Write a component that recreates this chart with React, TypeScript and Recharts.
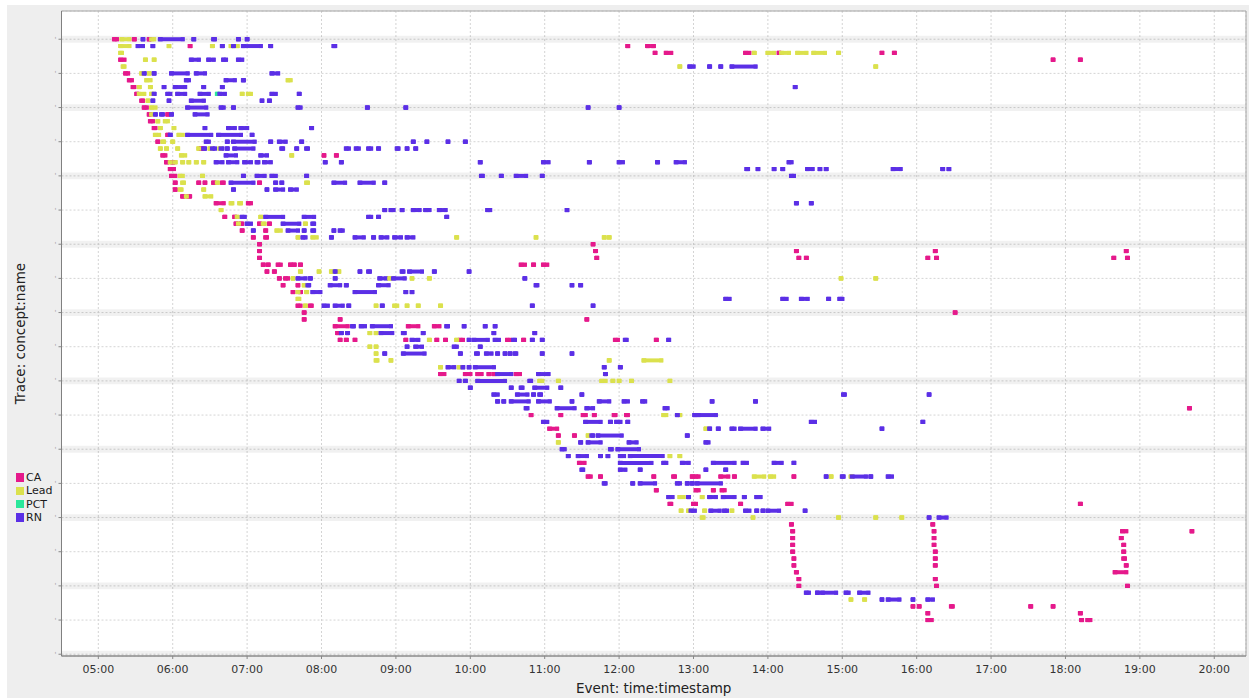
import React from 'react';
import {
  ScatterChart,
  Scatter,
  XAxis,
  YAxis,
  CartesianGrid,
  ErrorBar,
  ReferenceArea,
  Legend,
  Label,
} from 'recharts';

type Run = [number, number, number]; // [trace row, first event (min after midnight), last event (min)]

const SERIES = ['CA', 'Lead', 'PCT', 'RN'];
const COLORS: Record<string, string> = {
  CA: '#e5198b',
  Lead: '#dbe14d',
  PCT: '#2ae79a',
  RN: '#5b2fe6',
};

const HOUR_TICKS = [300, 360, 420, 480, 540, 600, 660, 720, 780, 840, 900, 960, 1020, 1080, 1140, 1200];
const ROW_TICKS = [0, 5, 10, 15, 20, 25, 30, 35, 40, 45, 50, 55, 60, 65, 70, 75, 80, 85, 90];
const BAND_ROWS = [0, 10, 20, 30, 40, 50, 60, 70, 80, 90];
const X_DOMAIN: [number, number] = [270.3, 1225.6];
const Y_DOMAIN: [number, number] = [-4.13, 90.26];

const CA_RUNS: Run[] = [
  [0,313,315],[0,329,329],[0,341,341],
  [1,374,374],[1,727,727],[1,743,743],[1,747,748],
  [2,749,749],[2,758,762],[2,822,825],[2,849,849],[2,932,932],[2,942,942],
  [3,318,321],[3,1070,1070],[3,1092,1092],
  [5,322,324],[6,325,327],[7,328,329],[8,331,331],[9,335,336],[10,337,339],
  [11,341,341],[11,356,356],[12,342,344],[13,345,346],[14,356,356],[15,348,348],[16,383,383],
  [17,352,354],[17,482,482],[17,492,492],
  [18,355,355],[18,360,360],[19,358,361],[20,359,362],
  [21,362,362],[21,381,381],[21,386,386],[21,393,393],[21,400,401],[21,430,430],
  [22,362,362],[23,368,368],[23,373,374],
  [24,395,401],[24,421,423],
  [26,402,402],[26,410,410],
  [27,411,411],[27,415,416],[27,430,430],[27,438,438],
  [28,416,416],[28,435,435],
  [29,425,425],[29,435,436],
  [30,430,430],[30,699,699],
  [31,430,430],[31,701,701],[31,863,863],[31,975,975],[31,1129,1129],
  [32,430,430],[32,702,702],[32,865,865],[32,871,871],[32,969,969],[32,976,976],[32,1119,1119],[32,1130,1130],
  [33,433,433],[33,437,437],[33,445,447],[33,455,455],[33,458,458],[33,463,463],[33,641,644],[33,651,651],[33,659,662],
  [34,436,436],[34,442,442],
  [35,446,446],[35,451,453],
  [36,449,449],[36,461,461],
  [37,457,457],[37,463,463],
  [39,461,463],[39,471,472],
  [40,466,466],[40,991,991],
  [41,466,466],[41,495,495],[41,694,694],
  [42,491,501],[42,550,558],[42,571,575],
  [43,493,493],
  [44,495,495],[44,500,500],[44,507,507],[44,548,548],[44,573,573],[44,580,580],[44,592,594],[44,630,632],[44,643,643],[44,717,719],[44,750,750],
  [49,576,579],[49,596,600],[49,606,609],[49,615,615],[49,619,619],[49,637,640],
  [54,1180,1180],
  [55,649,649],[55,673,673],[55,691,693],[55,700,700],[55,716,717],[55,726,727],
  [57,664,670],
  [58,671,671],[58,684,684],
  [62,688,692],
  [64,695,697],[64,705,705],[64,748,748],[64,764,765],[64,779,779],[64,782,784],[64,802,808],[64,813,813],[64,861,861],
  [66,750,750],[66,782,784],[66,796,796],[66,803,805],
  [68,761,762],[68,780,782],[68,818,818],[68,856,859],[68,1092,1092],
  [71,859,859],[71,973,973],
  [72,860,860],[72,974,974],[72,1126,1129],[72,1182,1182],
  [73,860,860],[73,974,974],[73,1125,1125],
  [74,860,860],[74,974,974],[74,1127,1127],
  [75,860,860],[75,975,975],[75,1127,1127],
  [76,861,861],[76,975,975],[76,1127,1128],
  [77,861,861],[77,975,975],[77,1129,1129],
  [78,863,863],[78,1120,1129],
  [79,865,865],[79,975,975],
  [80,865,865],[80,976,976],[80,1130,1130],
  [83,957,957],[83,962,962],[83,988,989],[83,1052,1052],[83,1070,1070],
  [84,969,969],[84,1092,1092],
  [85,969,972],[85,1093,1093],[85,1098,1100],
];

const LEAD_RUNS: Run[] = [
  [0,319,325],[0,343,345],
  [1,318,325],[1,357,357],[1,392,392],[1,407,407],[1,412,412],
  [2,318,319],[2,829,829],[2,840,845],[2,851,857],[2,864,871],[2,877,886],[2,897,897],
  [3,338,338],[3,345,345],
  [4,320,321],[4,769,769],[4,927,927],
  [5,335,335],[5,341,341],
  [6,339,342],[6,453,455],
  [7,333,333],[7,342,342],
  [8,333,337],[8,343,343],[8,416,416],[8,421,423],
  [9,340,340],[10,343,346],[11,343,343],
  [12,348,348],[12,354,356],
  [13,350,350],[13,361,361],
  [14,346,349],[14,365,368],
  [15,352,353],[15,360,360],
  [16,350,350],[16,355,355],[16,364,364],[16,381,381],[16,390,390],[16,398,398],
  [17,367,370],[17,456,456],
  [18,358,358],[18,362,362],[18,368,368],[18,373,373],[18,379,379],[18,385,385],
  [20,366,368],[20,384,384],
  [21,368,369],[21,396,396],[21,468,469],
  [22,366,367],[22,385,385],
  [23,371,371],[23,386,391],
  [24,407,408],[24,414,415],
  [25,399,399],
  [26,412,412],[26,431,431],
  [27,413,413],[27,433,434],[27,467,467],
  [28,444,447],
  [29,461,461],[29,473,476],[29,589,589],[29,653,653],[29,708,708],[29,712,712],
  [34,463,463],[34,478,478],[34,488,488],[34,494,494],
  [35,457,457],[35,535,535],[35,553,553],[35,567,567],[35,899,899],[35,927,927],
  [36,466,466],
  [37,461,461],[37,468,468],
  [38,461,462],
  [39,467,467],[39,524,524],[39,539,541],[39,549,549],[39,558,558],[39,576,576],
  [43,519,519],[43,524,524],
  [44,567,567],[44,589,589],
  [45,519,519],[45,524,524],
  [46,524,524],
  [47,524,525],[47,536,536],[47,712,712],[47,740,754],
  [48,576,576],[48,591,591],
  [50,656,658],[50,671,671],[50,706,709],[50,715,715],[50,720,720],[50,730,730],[50,761,761],
  [55,756,758],[55,769,769],
  [57,790,790],
  [58,695,695],
  [59,671,671],
  [61,761,761],[61,769,769],
  [64,829,837],[64,842,845],[64,891,891],[64,907,907],
  [67,769,772],[67,787,787],
  [69,770,770],[69,776,776],[69,789,789],[69,811,811],
  [70,787,788],[70,828,828],[70,897,897],[70,927,927],[70,948,948],
  [82,907,907],[82,918,918],
];

const PCT_RUNS: Run[] = [[8,396,396]];

const RN_RUNS: Run[] = [
  [0,336,336],[0,350,368],[0,377,377],[0,393,394],[0,413,413],[0,420,420],
  [1,332,336],[1,344,344],[1,400,400],[1,409,409],[1,417,431],[1,439,439],[1,490,491],
  [3,375,381],[3,389,393],[3,401,403],[3,413,416],
  [4,777,780],[4,793,793],[4,802,802],[4,811,830],
  [5,337,337],[5,345,345],[5,359,372],[5,379,386],[5,440,445],
  [6,371,373],[6,403,410],[6,417,417],
  [7,353,353],[7,362,370],[7,385,385],[7,400,400],[7,862,862],
  [8,345,345],[8,356,358],[8,364,370],[8,382,389],[8,398,402],[8,440,443],[8,462,462],
  [9,344,344],[9,357,357],[9,375,385],[9,432,432],[9,438,438],
  [10,372,387],[10,399,401],[10,409,409],[10,461,463],[10,517,517],[10,548,548],[10,695,695],[10,720,720],
  [11,346,346],[11,351,352],[11,359,359],[11,378,388],
  [13,386,386],[13,405,410],[13,415,420],[13,472,472],
  [14,358,358],[14,372,391],[14,397,415],[14,424,424],
  [15,387,389],[15,404,404],[15,409,426],[15,439,439],[15,446,451],[15,464,464],[15,554,554],[15,565,565],[15,582,582],[15,596,596],
  [16,385,386],[16,392,394],[16,399,400],[16,404,404],[16,410,425],[16,448,449],[16,460,460],[16,468,469],[16,500,502],[16,508,510],[16,518,520],[16,526,526],[16,541,542],[16,549,549],[16,556,556],
  [17,403,411],[17,431,436],
  [18,395,400],[18,405,412],[18,418,423],[18,428,429],[18,434,439],[18,483,483],[18,496,496],[18,608,608],[18,659,663],[18,696,696],[18,720,723],[18,751,751],[18,766,773],[18,857,859],
  [19,823,824],[19,832,832],[19,845,845],[19,852,852],[19,872,876],[19,882,882],[19,887,887],[19,941,947],[19,981,981],[19,986,986],
  [20,417,417],[20,428,434],[20,440,443],[20,468,468],[20,609,610],[20,625,625],[20,637,645],[20,658,658],[20,859,861],
  [21,407,425],[21,443,443],[21,448,448],[21,490,499],[21,511,522],[21,531,531],
  [22,409,409],[22,436,436],[22,443,449],[22,455,460],
  [24,863,863],[24,875,875],
  [25,531,531],[25,536,538],[25,545,545],[25,554,559],[25,564,567],[25,575,580],[25,614,616],[25,678,678],
  [26,416,418],[26,435,449],[26,466,474],[26,518,520],[26,526,526],[26,581,581],
  [27,420,423],[27,449,462],[27,473,474],
  [28,425,425],[28,453,461],[28,466,466],[28,473,474],[28,490,490],[28,495,497],
  [29,465,467],[29,488,488],[29,507,514],[29,522,522],[29,528,533],[29,539,544],[29,549,554],
  [34,491,491],[34,511,511],[34,518,519],[34,545,546],[34,551,561],[34,571,571],[34,599,599],
  [35,461,467],[35,471,471],[35,491,491],[35,527,532],[35,538,547],[35,644,644],
  [36,469,470],[36,487,495],[36,500,500],[36,526,534],[36,653,654],[36,682,682],[36,689,689],
  [37,473,479],[37,507,523],[37,548,548],[37,553,553],
  [38,806,809],[38,852,855],[38,867,872],[38,889,889],[38,898,900],
  [39,482,485],[39,491,497],[39,502,502],[39,529,529],[39,650,650],[39,699,699],
  [42,505,506],[42,512,515],[42,521,536],[42,581,582],[42,595,595],[42,612,612],[42,620,620],
  [43,496,496],[43,501,501],[43,528,537],[43,546,547],[43,562,562],[43,619,619],[43,652,652],
  [44,553,558],[44,599,599],[44,603,614],[44,620,623],[44,635,636],[44,650,650],[44,658,658],[44,725,726],[44,760,760],
  [45,549,549],[45,556,561],[45,587,589],[45,608,608],
  [46,531,531],[46,546,563],[46,592,592],[46,605,606],[46,613,617],[46,622,622],[46,628,628],[46,632,632],[46,636,637],[46,658,658],[46,682,682],
  [48,582,587],[48,594,594],[48,599,599],[48,604,619],[48,708,708],[48,721,721],
  [49,622,633],[49,655,663],[49,709,709],
  [50,591,591],[50,596,596],[50,606,628],[50,648,649],
  [51,600,600],[51,633,633],[51,641,642],[51,652,662],[51,673,673],
  [52,619,622],[52,638,646],[52,651,651],[52,656,657],[52,690,690],[52,901,902],[52,970,970],
  [53,622,622],[53,627,627],[53,633,647],[53,655,664],[53,682,682],[53,704,712],[53,724,727],[53,739,741],[53,795,795],[53,830,830],
  [54,645,646],[54,670,684],[54,694,699],[54,757,759],
  [55,767,767],[55,781,781],[55,784,798],
  [56,659,662],[56,693,705],[56,713,713],[56,718,721],[56,727,727],[56,875,878],[56,965,965],
  [57,793,793],[57,800,800],[57,811,813],[57,818,830],[57,836,841],[57,932,932],
  [58,698,699],[58,703,722],[58,775,775],
  [59,689,689],[59,695,705],[59,728,734],[59,790,792],
  [60,674,676],[60,713,714],[60,719,736],
  [61,679,679],[61,687,694],[61,705,705],[61,711,711],[61,721,724],[61,729,755],
  [62,721,746],[62,756,758],[62,771,776],[62,796,813],[62,820,823],[62,845,851],[62,861,861],
  [63,690,691],[63,721,725],[63,737,737],[63,790,790],[63,806,806],
  [64,887,887],[64,900,901],[64,908,919],[64,923,923],[64,937,940],
  [65,708,709],[65,731,731],[65,737,749],[65,767,769],[65,775,775],[65,779,779],[65,783,802],
  [67,760,763],[67,776,776],[67,793,798],[67,804,813],[67,821,821],[67,831,834],
  [69,778,781],[69,794,801],[69,805,807],[69,822,825],[69,831,831],[69,836,836],[69,840,849],[69,870,870],
  [70,970,970],[70,978,984],
  [81,871,873],[81,880,880],[81,884,895],[81,903,905],[81,914,921],
  [82,932,932],[82,937,946],[82,957,957],[82,969,973],
];

const RUNS_BY_SERIES: Record<string, Run[]> = {
  CA: CA_RUNS,
  Lead: LEAD_RUNS,
  PCT: PCT_RUNS,
  RN: RN_RUNS,
};

const toPoints = (runs: Run[]) =>
  runs.map(([row, start, end]) => ({ row, t: start, span: [0, Math.max(0, end - start)] }));

const fmtHour = (m: number) => `${String(Math.round(m / 60)).padStart(2, '0')}:00`;

const FONT = '"DejaVu Sans", "Noto Sans", sans-serif';

const makeMarker = (color: string) => (props: any) => {
  const { cx, cy } = props;
  if (cx == null || cy == null) return <g />;
  return <rect x={cx - 2.5} y={cy - 2} width={5} height={4} fill={color} />;
};

const LegendBox = (props: any) => {
  const payload = (props && props.payload) || [];
  const items = payload.length
    ? payload.map((p: any) => ({ name: p.value, color: p.color }))
    : SERIES.map((s) => ({ name: s, color: COLORS[s] }));
  return (
    <div style={{ fontFamily: FONT, fontSize: 11, color: '#1a1a1a' }}>
      {items.map((it: any) => (
        <div key={it.name} style={{ display: 'flex', alignItems: 'center', height: 13.3, lineHeight: '13.3px' }}>
          <span style={{ display: 'inline-block', width: 8.5, height: 8.5, background: it.color, marginRight: 2 }} />
          <span>{it.name}</span>
        </div>
      ))}
    </div>
  );
};

const YTitle = (props: any) => {
  const vb = props.viewBox || { x: 0, y: 11, width: 61.5, height: 645 };
  const cx = vb.x + 20.3;
  const cy = vb.y + vb.height / 2;
  return (
    <text
      x={cx}
      y={cy}
      transform={`rotate(-90 ${cx} ${cy})`}
      textAnchor="middle"
      dominantBaseline="central"
      fontFamily={FONT}
      fontSize={13.5}
      fill="#222"
    >
      Trace: concept:name
    </text>
  );
};

export default function App() {
  return (
    <div style={{ position: 'fixed', left: 0, top: 0, width: 1249, height: 698, background: '#ffffff', fontFamily: FONT }}>
      <div style={{ position: 'absolute', left: 7, top: 5, right: 0, bottom: 0, background: '#eeeeee' }} />
      <div style={{ position: 'absolute', left: 0, top: 0 }}>
        <ScatterChart width={1249} height={698} margin={{ top: 11, right: 3, bottom: 0, left: 0 }}>
          <CartesianGrid
            stroke="#d4d4d4"
            strokeDasharray="2 2"
            fill="#ffffff"
            fillOpacity={1}
          />
          {BAND_ROWS.map((r) => (
            <ReferenceArea
              key={`band-${r}`}
              y1={r - 0.5}
              y2={r + 0.5}
              fill="#000000"
              fillOpacity={0.055}
              stroke="none"
              ifOverflow="hidden"
            />
          ))}
          <ReferenceArea
            x1={X_DOMAIN[0]}
            x2={X_DOMAIN[1]}
            y1={Y_DOMAIN[0]}
            y2={Y_DOMAIN[1]}
            fill="none"
            stroke="#a6a6a6"
            strokeWidth={1}
          />
          <XAxis
            type="number"
            dataKey="t"
            domain={X_DOMAIN}
            allowDataOverflow
            ticks={HOUR_TICKS}
            tickFormatter={fmtHour}
            tick={{ fill: '#333', fontSize: 11, fontFamily: FONT }}
            tickSize={3}
            tickMargin={6}
            tickLine={{ stroke: '#888' }}
            axisLine={{ stroke: '#808080' }}
            height={42}
          >
            <Label
              value="Event: time:timestamp"
              position="insideBottom"
              offset={5}
              style={{ fontFamily: FONT, fontSize: 13.5, fill: '#222' }}
            />
          </XAxis>
          <YAxis
            type="number"
            dataKey="row"
            reversed
            domain={Y_DOMAIN}
            allowDataOverflow
            ticks={ROW_TICKS}
            tickFormatter={() => "'"}
            tick={{ fill: '#999', fontSize: 7, fontFamily: FONT }}
            tickSize={3}
            tickMargin={2}
            tickLine={{ stroke: '#888' }}
            axisLine={{ stroke: '#808080' }}
            width={61.5}
          >
            <Label content={YTitle} />
          </YAxis>
          <Legend
            layout="vertical"
            align="center"
            verticalAlign="middle"
            content={LegendBox}
            wrapperStyle={{ position: 'absolute', left: 15.5, top: 471, width: 60, height: 56 }}
          />
          {SERIES.map((s) => (
            <Scatter
              key={s}
              name={s}
              data={toPoints(RUNS_BY_SERIES[s])}
              fill={COLORS[s]}
              shape={makeMarker(COLORS[s])}
              isAnimationActive={false}
            >
              <ErrorBar
                dataKey="span"
                direction="x"
                width={0}
                stroke={COLORS[s]}
                strokeWidth={4}
                strokeLinecap="square"
                isAnimationActive={false}
              />
            </Scatter>
          ))}
        </ScatterChart>
      </div>
    </div>
  );
}
